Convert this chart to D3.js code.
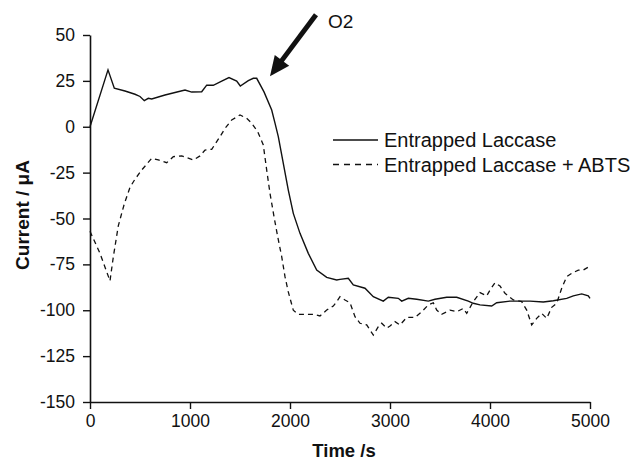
<!DOCTYPE html>
<html>
<head>
<meta charset="utf-8">
<script src="https://cdn.jsdelivr.net/npm/d3@7"></script>
<style>
  body { margin: 0; background: #fff; }
  svg { display: block; font-family: "Liberation Sans", Arial, sans-serif; }
</style>
</head>
<body>
<div id="app"></div>
<script>
// time (s) and current (uA)
const timeA = [0, 180, 243, 350, 450, 500, 543, 583, 617, 750, 950, 1017, 1117, 1167, 1233, 1317, 1390, 1467, 1503, 1583, 1633, 1667, 1740, 1817, 1850, 1883, 1933, 1983, 2033, 2100, 2183, 2267, 2367, 2467, 2500, 2583, 2633, 2750, 2833, 2933, 2983, 3083, 3117, 3183, 3267, 3383, 3450, 3567, 3667, 3783, 3833, 3900, 4017, 4067, 4200, 4333, 4400, 4533, 4633, 4767, 4833, 4917, 4983, 5000];
const currentA = [0, 31, 21, 19.5, 17.7, 16.5, 14.2, 15.5, 15.1, 17.3, 20, 18.9, 19.1, 22.7, 22.6, 24.9, 26.8, 24.9, 22.2, 25.1, 26.4, 26.4, 19, 9.1, 2, -5.4, -19.9, -34.5, -47.2, -58.1, -69, -78.1, -82.1, -83.5, -83.2, -82.6, -86.2, -88, -92.6, -95, -92.9, -93.5, -95, -93.5, -94, -95, -94, -92.9, -92.9, -95, -96.2, -97.1, -97.7, -95.9, -95, -95, -95, -95.5, -94.8, -93.5, -92.2, -91.1, -92.2, -93.5];

const timeB = [0, 100, 200, 233, 283, 343, 400, 450, 517, 617, 683, 767, 833, 917, 1033, 1100, 1150, 1217, 1300, 1350, 1417, 1500, 1567, 1617, 1677, 1733, 1767, 1800, 1843, 1877, 1917, 1950, 1983, 2033, 2083, 2233, 2300, 2367, 2433, 2467, 2500, 2550, 2600, 2650, 2700, 2767, 2833, 2883, 2917, 2967, 3000, 3050, 3100, 3167, 3250, 3317, 3383, 3433, 3467, 3517, 3600, 3667, 3733, 3767, 3833, 3900, 3967, 4000, 4050, 4100, 4150, 4233, 4317, 4367, 4417, 4467, 4517, 4567, 4617, 4667, 4717, 4767, 4817, 4883, 4933, 5000];
const currentB = [-57, -69, -84, -71, -54, -42, -33, -28.6, -23.6, -17.2, -18.1, -19.6, -16.3, -15.9, -18.1, -15.9, -12.7, -12.3, -5.4, -0.9, 3.7, 6.4, 4.6, 1.9, -2.7, -9.9, -23.6, -36.3, -49.9, -59.9, -70.8, -81.7, -90, -100, -102.2, -102.2, -103.1, -99.9, -97.7, -95.3, -92.6, -94.4, -95.9, -103.5, -107.1, -108, -113.5, -109, -107.1, -109.8, -108.6, -106.2, -108, -103.9, -103.9, -100.8, -97.1, -95.9, -99.9, -102.2, -99.9, -100.8, -99, -101.7, -95.3, -90.4, -92.2, -89, -85, -86.8, -90.8, -94.4, -95.3, -99.9, -108, -104.4, -101.7, -104.4, -98.4, -96.2, -88, -81.7, -79.9, -78.1, -78.1, -75.9];

const seriesNames = ['Entrapped Laccase', 'Entrapped Laccase + ABTS'];
const xTicks = [0, 1000, 2000, 3000, 4000, 5000];
const yTicks = [50, 25, 0, -25, -50, -75, -100, -125, -150];
// O2 arrow: tail and tip in data units
const arrowTail = [2260, 61];
const arrowTip = [1800, 27.5];

const width = 630, height = 461;
const margin = {top: 35, right: 40, bottom: 59, left: 90};

const svg = d3.select('#app').append('svg')
  .attr('width', width)
  .attr('height', height);

const x = d3.scaleLinear()
  .domain([0, 5000])
  .range([margin.left, width - margin.right]);

const y = d3.scaleLinear()
  .domain([-150, 50])
  .range([height - margin.bottom, margin.top]);

// axes
const xAxis = svg.append('g')
  .attr('transform', `translate(0, ${height - margin.bottom})`)
  .call(d3.axisBottom(x).tickValues(xTicks).tickSize(7).tickPadding(6).tickSizeOuter(0).tickFormat(d3.format('d')));

const yAxis = svg.append('g')
  .attr('transform', `translate(${margin.left}, 0)`)
  .call(d3.axisLeft(y).tickValues(yTicks).tickSize(7).tickPadding(8).tickSizeOuter(0));

[xAxis, yAxis].forEach(ax => {
  ax.select('.domain').attr('stroke', '#111').attr('stroke-width', 1.6);
  ax.selectAll('.tick line').attr('stroke', '#111').attr('stroke-width', 1.4);
  ax.selectAll('.tick text')
    .attr('fill', '#111')
    .style('font-size', '17.5px')
    .style('font-family', '"Liberation Sans", Arial, sans-serif');
});
yAxis.selectAll('.tick text').text(d => d < 0 ? '-' + Math.abs(d) : d);

// lines
const line = d3.line()
  .x(d => x(d[0]))
  .y(d => y(d[1]));

svg.append('path')
  .datum(d3.zip(timeA, currentA))
  .attr('d', line)
  .attr('fill', 'none')
  .attr('stroke', '#111')
  .attr('stroke-width', 1.4);

svg.append('path')
  .datum(d3.zip(timeB, currentB))
  .attr('d', line)
  .attr('fill', 'none')
  .attr('stroke', '#111')
  .attr('stroke-width', 1.3)
  .attr('stroke-dasharray', '5,4');

// axis titles
svg.append('text')
  .attr('x', (margin.left + width - margin.right) / 2 + 4)
  .attr('y', 457)
  .attr('text-anchor', 'middle')
  .style('font-size', '18.5px')
  .style('font-weight', 'bold')
  .attr('fill', '#111')
  .text('Time /s');

svg.append('text')
  .attr('transform', `translate(29, 215) rotate(-90)`)
  .attr('text-anchor', 'middle')
  .style('font-size', '19px')
  .style('font-weight', 'bold')
  .attr('fill', '#111')
  .text('Current / μA');

// legend
const legend = svg.append('g')
  .attr('transform', 'translate(333, 140)');

legend.selectAll('g')
  .data(seriesNames)
  .enter()
  .append('g')
  .attr('transform', (d, i) => `translate(0, ${i * 24.5})`)
  .call(g => {
    g.append('line')
      .attr('x1', 0).attr('x2', 45)
      .attr('stroke', '#111')
      .attr('stroke-width', 1.3)
      .attr('stroke-dasharray', (d, i) => i === 1 ? '6,5' : null);
    g.append('text')
      .attr('x', 51)
      .attr('y', 7)
      .style('font-size', '20px')
      .attr('fill', '#111')
      .text(d => d);
  });

// O2 arrow
const tx = x(arrowTip[0]), ty = y(arrowTip[1]);
const sx = x(arrowTail[0]), sy = y(arrowTail[1]);
const ang = Math.atan2(ty - sy, tx - sx);
const headLen = 20, headHalf = 9;
const bx = tx - headLen * Math.cos(ang), by = ty - headLen * Math.sin(ang);
const px = -Math.sin(ang), py = Math.cos(ang);

svg.append('line')
  .attr('x1', sx).attr('y1', sy)
  .attr('x2', bx + 2 * Math.cos(ang)).attr('y2', by + 2 * Math.sin(ang))
  .attr('stroke', '#111')
  .attr('stroke-width', 5);

svg.append('path')
  .attr('d', `M${tx},${ty}L${bx + headHalf * px},${by + headHalf * py}L${bx - headHalf * px},${by - headHalf * py}Z`)
  .attr('fill', '#111');

svg.append('text')
  .attr('x', sx + 12)
  .attr('y', sy + 13)
  .style('font-size', '19px')
  .attr('fill', '#111')
  .text('O2');
</script>
</body>
</html>
